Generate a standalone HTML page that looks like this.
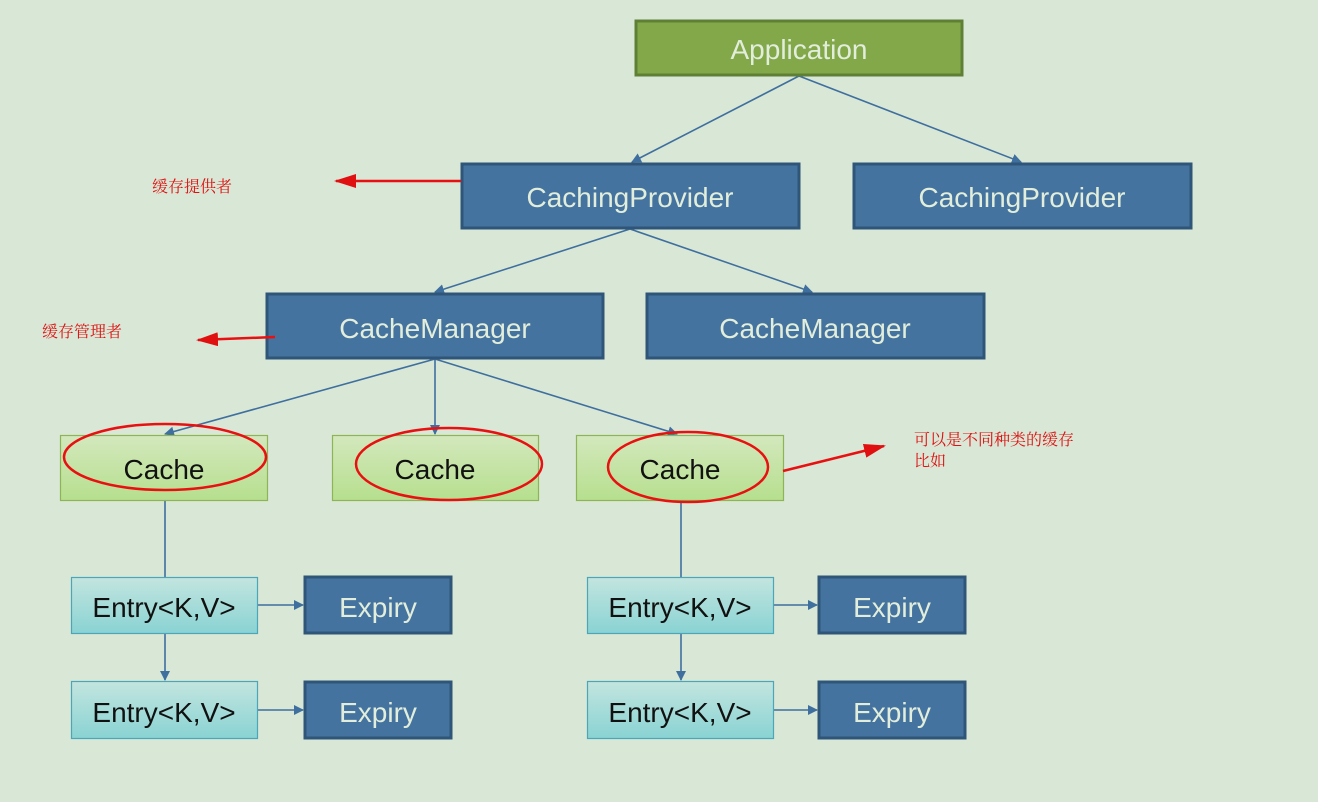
<!DOCTYPE html>
<html><head><meta charset="utf-8"><style>
html,body{margin:0;padding:0;background:#d9e7d6;}
svg{display:block}
text{font-family:"Liberation Sans","Noto Sans CJK SC",sans-serif}
text.cn{font-family:"Liberation Serif","Noto Serif CJK SC",serif}
</style></head><body>
<svg width="1318" height="802" viewBox="0 0 1318 802" xmlns="http://www.w3.org/2000/svg">
<defs>
<linearGradient id="g" x1="0" y1="0" x2="0" y2="1"><stop offset="0" stop-color="#d3e8bd"/><stop offset="1" stop-color="#b6df8e"/></linearGradient>
<linearGradient id="c" x1="0" y1="0" x2="0" y2="1"><stop offset="0" stop-color="#c3e5df"/><stop offset="1" stop-color="#89d3d3"/></linearGradient>
<marker id="a" markerWidth="10" markerHeight="10" refX="9" refY="5" orient="auto" markerUnits="userSpaceOnUse"><path d="M0,0 L10,5 L0,10 z" fill="#3f6f9e"/></marker>
<marker id="r" markerWidth="22" markerHeight="14" refX="20" refY="7" orient="auto" markerUnits="userSpaceOnUse"><path d="M0,0 L22,7 L0,14 z" fill="#e01010"/></marker>
</defs>
<rect width="1318" height="802" fill="#d9e7d6"/>
<g stroke="#3f6f9e" stroke-width="1.6" fill="none">
<line x1="799" y1="76" x2="632" y2="162" marker-end="url(#a)"/>
<line x1="799" y1="76" x2="1021" y2="162" marker-end="url(#a)"/>
<line x1="630" y1="229" x2="435" y2="292" marker-end="url(#a)"/>
<line x1="630" y1="229" x2="812" y2="292" marker-end="url(#a)"/>
<line x1="435" y1="359" x2="165" y2="434" marker-end="url(#a)"/>
<line x1="435" y1="359" x2="435" y2="434" marker-end="url(#a)"/>
<line x1="435" y1="359" x2="677" y2="434" marker-end="url(#a)"/>
<line x1="165" y1="500" x2="165" y2="577"/>
<line x1="681" y1="500" x2="681" y2="577"/>
<line x1="165" y1="633" x2="165" y2="680" marker-end="url(#a)"/>
<line x1="681" y1="633" x2="681" y2="680" marker-end="url(#a)"/>
<line x1="257" y1="605" x2="303" y2="605" marker-end="url(#a)"/>
<line x1="257" y1="710" x2="303" y2="710" marker-end="url(#a)"/>
<line x1="773" y1="605" x2="817" y2="605" marker-end="url(#a)"/>
<line x1="773" y1="710" x2="817" y2="710" marker-end="url(#a)"/>
</g>
<rect x="636" y="21" width="326" height="54" fill="#82a84a" stroke="#5f7f35" stroke-width="3"/>
<g fill="#44739f" stroke="#2f5578" stroke-width="3">
<rect x="462" y="164" width="337" height="64"/>
<rect x="854" y="164" width="337" height="64"/>
<rect x="267" y="294" width="336" height="64"/>
<rect x="647" y="294" width="337" height="64"/>
<rect x="305" y="577" width="146" height="56"/>
<rect x="305" y="682" width="146" height="56"/>
<rect x="819" y="577" width="146" height="56"/>
<rect x="819" y="682" width="146" height="56"/>
</g>
<g fill="url(#g)" stroke="#8db456" stroke-width="1.2">
<rect x="60.5" y="435.5" width="207" height="65"/>
<rect x="332.5" y="435.5" width="206" height="65"/>
<rect x="576.5" y="435.5" width="207" height="65"/>
</g>
<g fill="url(#c)" stroke="#4aa6b8" stroke-width="1.2">
<rect x="71.5" y="577.5" width="186" height="56"/>
<rect x="71.5" y="681.5" width="186" height="57"/>
<rect x="587.5" y="577.5" width="186" height="56"/>
<rect x="587.5" y="681.5" width="186" height="57"/>
</g>
<g font-size="28" text-anchor="middle" fill="#e2eedb">
<text x="799" y="59">Application</text>
<text x="630" y="207">CachingProvider</text>
<text x="1022" y="207">CachingProvider</text>
<text x="435" y="338">CacheManager</text>
<text x="815" y="338">CacheManager</text>
<text x="378" y="617">Expiry</text>
<text x="378" y="722">Expiry</text>
<text x="892" y="617">Expiry</text>
<text x="892" y="722">Expiry</text>
</g>
<g font-size="28" text-anchor="middle" fill="#111">
<text x="164" y="479">Cache</text>
<text x="435" y="479">Cache</text>
<text x="680" y="479">Cache</text>
<text x="164" y="617">Entry&lt;K,V&gt;</text>
<text x="164" y="722">Entry&lt;K,V&gt;</text>
<text x="680" y="617">Entry&lt;K,V&gt;</text>
<text x="680" y="722">Entry&lt;K,V&gt;</text>
</g>
<g fill="none" stroke="#e81010" stroke-width="2.5">
<ellipse cx="165" cy="457" rx="101" ry="33"/>
<ellipse cx="449" cy="464" rx="93" ry="36"/>
<ellipse cx="688" cy="467" rx="80" ry="35"/>
<line x1="461" y1="181" x2="336" y2="181" marker-end="url(#r)"/>
<line x1="275" y1="337" x2="198" y2="340" marker-end="url(#r)"/>
<line x1="783" y1="471" x2="884" y2="446" marker-end="url(#r)"/>
</g>
<g font-size="16" fill="#e01010">
<text class="cn" x="152" y="192">缓存提供者</text>
<text class="cn" x="42" y="337">缓存管理者</text>
<text class="cn" x="914" y="445">可以是不同种类的缓存</text>
<text class="cn" x="914" y="466">比如</text>
</g>
</svg>
</body></html>
